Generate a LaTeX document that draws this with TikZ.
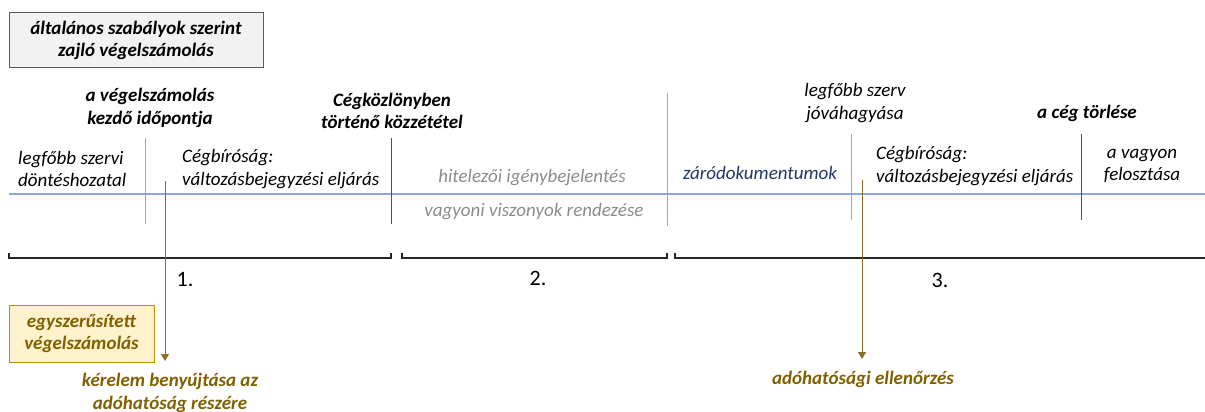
\documentclass[tikz,border=0pt]{standalone}
\usepackage{fontspec}
\setmainfont{Carlito}
\usetikzlibrary{arrows.meta}
\definecolor{lblue}{RGB}{142,170,219}
\definecolor{dblue}{RGB}{47,84,150}
\definecolor{navytxt}{RGB}{31,56,100}
\definecolor{graytxt}{RGB}{140,140,140}
\definecolor{browntxt}{RGB}{128,96,0}
\definecolor{brownline}{RGB}{140,110,40}
\definecolor{boxgray}{RGB}{242,242,242}
\definecolor{boxgrayb}{RGB}{89,89,89}
\definecolor{boxyel}{RGB}{255,242,204}
\definecolor{boxyelb}{RGB}{191,144,0}
\begin{document}
\begin{tikzpicture}[x=1pt,y=-1pt,
  txt/.style={font=\fontsize{19}{22.5}\selectfont\itshape, inner sep=0pt, align=left},
  ctxt/.style={font=\fontsize{19}{22.5}\selectfont\itshape, inner sep=0pt, align=center},
  btxt/.style={font=\fontsize{19}{22.5}\selectfont\bfseries\itshape, inner sep=0pt, align=center},
  numtxt/.style={font=\fontsize{22}{24}\selectfont, inner sep=0pt},
  sep/.style={line width=1pt},
  brk/.style={line width=1.2pt, black!85},
  arr/.style={brownline, line width=1pt, -{Triangle[length=7pt,width=8pt]}}
]
\useasboundingbox (0,0) rectangle (1205,412);
% top boxes
\node[btxt, draw=boxgrayb, fill=boxgray, line width=1pt, minimum width=254pt, minimum height=55pt] (gen) at (136,40.5) {általános szabályok szerint\\zajló végelszámolás};
\node[btxt, draw=boxyelb, fill=boxyel, line width=1pt, text=browntxt, minimum width=145pt, minimum height=57pt] (simp) at (81.5,333.5) {egyszerűsített\\végelszámolás};
% headings
\node[btxt] (start) at (150,108) {a végelszámolás\\kezdő időpontja};
\node[btxt] (pub) at (392,111) {Cégközlönyben\\történő közzététel};
\node[ctxt] (appr) at (855,103) {legfőbb szerv\\jóváhagyása};
\node[btxt] (del) at (1087,113) {a cég törlése};
% timeline
\coordinate (tlL) at (9,194);
\coordinate (tlR) at (1205,194);
\draw[lblue, line width=1.2pt] (tlL) -- (tlR);
% separators
\coordinate (s1a) at (145,138); \coordinate (s1b) at (145,224);
\coordinate (s2a) at (391,138); \coordinate (s2b) at (391,224);
\coordinate (s3a) at (667,93);  \coordinate (s3b) at (667,226);
\coordinate (s4a) at (851,134); \coordinate (s4b) at (851,220);
\coordinate (s5a) at (1081,134); \coordinate (s5b) at (1081,220);
\draw[sep, lblue] (s1a) -- (s1b);
\draw[sep, dblue] (s2a) -- (s2b);
\draw[sep, lblue] (s3a) -- (s3b);
\draw[sep, lblue] (s4a) -- (s4b);
\draw[sep, dblue] (s5a) -- (s5b);
% phase texts
\node[txt, anchor=west] (dec) at (18,169) {legfőbb szervi\\döntéshozatal};
\node[txt, anchor=west] (reg1) at (182,169) {Cégbíróság:\\változásbejegyzési eljárás};
\node[ctxt, text=graytxt] (cred) at (532,178) {hitelezői igénybejelentés};
\node[ctxt, text=graytxt] (prop) at (534,212) {vagyoni viszonyok rendezése};
\node[ctxt, text=navytxt] (close) at (760,173) {záródokumentumok};
\node[txt, anchor=west] (reg2) at (876,166) {Cégbíróság:\\változásbejegyzési eljárás};
\node[ctxt] (dist) at (1142,166) {a vagyon\\felosztása};
% brackets
\draw[brk] (9,253) -- (9,258) -- (391,258) -- (391,253);
\draw[brk] (402,253) -- (402,258) -- (667,258) -- (667,253);
\draw[brk] (675,253) -- (675,258) -- (1205,258);
\node[numtxt] (n1) at (185,280) {1.};
\node[numtxt] (n2) at (538,278) {2.};
\node[numtxt] (n3) at (940,280) {3.};
% tax authority
\node[btxt, text=browntxt] (req) at (170,393) {kérelem benyújtása az\\adóhatóság részére};
\node[btxt, text=browntxt] (audit) at (863,379) {adóhatósági ellenőrzés};
\coordinate (a1) at (165,181);
\coordinate (a2) at (862,180);
\draw[arr] (a1) -- (165,361);
\draw[arr] (a2) -- (862,359);
\end{tikzpicture}
\end{document}
